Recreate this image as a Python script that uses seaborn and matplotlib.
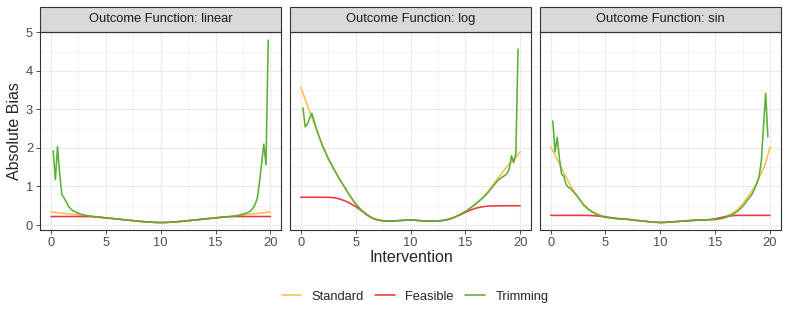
import numpy as np
import pandas as pd
import matplotlib
matplotlib.use("Agg")
import matplotlib.pyplot as plt
from matplotlib.patches import Rectangle
from matplotlib.lines import Line2D
import seaborn as sns

NAN = np.nan

# --- DATA ---
INTERVENTION = [0, 0.2, 0.4, 0.6, 0.8, 1.0, 1.2, 1.4, 1.6, 1.8, 2.0,
                2.5, 3, 3.5, 4, 4.5, 5, 5.5, 6, 6.5, 7, 7.5,
                8, 8.5, 9, 9.5, 10, 10.5, 11, 11.5, 12, 12.5, 13,
                13.5, 14, 14.5, 15, 15.5, 16, 16.5, 17, 17.5, 18,
                18.2, 18.4, 18.6, 18.8, 19, 19.2, 19.4, 19.6, 19.8, 20]

LINEAR_STANDARD = [0.34, 0.334, 0.327, 0.321, 0.314, 0.308, 0.302, 0.295, 0.289, 0.283, 0.277,
                   0.262, 0.247, 0.232, 0.217, 0.202, 0.187, 0.172, 0.157, 0.142, 0.127, 0.112,
                   0.098, 0.086, 0.075, 0.067, 0.064, 0.067, 0.075, 0.086, 0.098, 0.112, 0.127,
                   0.142, 0.157, 0.172, 0.187, 0.202, 0.217, 0.232, 0.247, 0.262, 0.277,
                   0.283, 0.289, 0.295, 0.302, 0.308, 0.314, 0.321, 0.327, 0.334, 0.34]
LINEAR_FEASIBLE = [0.22, 0.22, 0.22, 0.22, 0.22, 0.22, 0.22, 0.22, 0.22, 0.22, 0.22,
                   0.22, 0.22, 0.218, 0.212, 0.2, 0.187, 0.172, 0.157, 0.142, 0.127, 0.112,
                   0.098, 0.086, 0.075, 0.067, 0.064, 0.067, 0.075, 0.086, 0.098, 0.112, 0.127,
                   0.142, 0.157, 0.172, 0.187, 0.2, 0.212, 0.218, 0.22, 0.22, 0.22,
                   0.22, 0.22, 0.22, 0.22, 0.22, 0.22, 0.22, 0.22, 0.22, 0.22]
LINEAR_TRIMMING = [NAN, 1.93, 1.18, 2.04, 1.3, 0.78, 0.7, 0.6, 0.48, 0.42, 0.37,
                   0.3, 0.26, 0.235, 0.215, 0.198, 0.184, 0.17, 0.156, 0.142, 0.127, 0.112,
                   0.098, 0.086, 0.075, 0.067, 0.064, 0.067, 0.075, 0.086, 0.098, 0.112, 0.127,
                   0.142, 0.156, 0.17, 0.184, 0.198, 0.21, 0.222, 0.245, 0.28, 0.33,
                   0.37, 0.43, 0.53, 0.69, 1.1, 1.6, 2.1, 1.56, 4.8, NAN]

LOG_STANDARD = [3.58, 3.42, 3.26, 3.11, 2.95, 2.8, 2.65, 2.5, 2.35, 2.2, 2.05,
                1.72, 1.45, 1.2, 0.97, 0.74, 0.54, 0.39, 0.27, 0.18, 0.13, 0.11,
                0.1, 0.105, 0.115, 0.125, 0.128, 0.122, 0.11, 0.1, 0.098, 0.105, 0.12,
                0.15, 0.2, 0.27, 0.35, 0.45, 0.57, 0.69, 0.85, 1.04, 1.23,
                1.3, 1.38, 1.45, 1.52, 1.58, 1.64, 1.7, 1.76, 1.83, 1.9]
LOG_FEASIBLE = [0.72, 0.72, 0.72, 0.72, 0.72, 0.72, 0.72, 0.72, 0.72, 0.72, 0.72,
                0.72, 0.71, 0.68, 0.63, 0.56, 0.48, 0.38, 0.27, 0.18, 0.13, 0.11,
                0.1, 0.105, 0.115, 0.125, 0.128, 0.122, 0.11, 0.1, 0.098, 0.105, 0.12,
                0.15, 0.2, 0.26, 0.33, 0.39, 0.44, 0.47, 0.49, 0.495, 0.5,
                0.5, 0.5, 0.5, 0.5, 0.5, 0.5, 0.5, 0.5, 0.5, 0.5]
LOG_TRIMMING = [NAN, 3.04, 2.55, 2.62, 2.77, 2.9, 2.71, 2.52, 2.35, 2.19, 2.04,
                1.73, 1.46, 1.21, 0.98, 0.75, 0.55, 0.39, 0.27, 0.18, 0.13, 0.11,
                0.1, 0.105, 0.115, 0.125, 0.128, 0.122, 0.11, 0.1, 0.098, 0.105, 0.12,
                0.15, 0.2, 0.27, 0.35, 0.45, 0.56, 0.68, 0.82, 1.0, 1.17,
                1.21, 1.25, 1.29, 1.34, 1.45, 1.8, 1.62, 1.85, 4.57, NAN]

SIN_STANDARD = [2.03, 1.93, 1.82, 1.71, 1.59, 1.47, 1.36, 1.25, 1.14, 1.03, 0.93,
                0.72, 0.54, 0.41, 0.32, 0.26, 0.22, 0.19, 0.17, 0.16, 0.15, 0.13,
                0.115, 0.1, 0.085, 0.072, 0.065, 0.07, 0.08, 0.09, 0.1, 0.11, 0.12,
                0.125, 0.13, 0.14, 0.16, 0.19, 0.23, 0.29, 0.39, 0.55, 0.74,
                0.82, 0.91, 1.0, 1.11, 1.23, 1.35, 1.47, 1.62, 1.82, 2.03]
SIN_FEASIBLE = [0.25, 0.25, 0.25, 0.25, 0.25, 0.25, 0.25, 0.25, 0.25, 0.25, 0.25,
                0.25, 0.25, 0.248, 0.24, 0.228, 0.21, 0.19, 0.17, 0.16, 0.15, 0.13,
                0.115, 0.1, 0.085, 0.072, 0.065, 0.07, 0.08, 0.09, 0.1, 0.11, 0.12,
                0.125, 0.13, 0.14, 0.16, 0.19, 0.22, 0.24, 0.25, 0.25, 0.25,
                0.25, 0.25, 0.25, 0.25, 0.25, 0.25, 0.25, 0.25, 0.25, 0.25]
SIN_TRIMMING = [NAN, 2.7, 1.9, 2.28, 1.73, 1.32, 1.27, 1.06, 0.98, 0.95, 0.89,
                0.72, 0.52, 0.39, 0.3, 0.24, 0.2, 0.18, 0.165, 0.155, 0.145, 0.13,
                0.115, 0.1, 0.085, 0.072, 0.065, 0.07, 0.08, 0.09, 0.1, 0.11, 0.12,
                0.125, 0.13, 0.135, 0.14, 0.16, 0.2, 0.26, 0.35, 0.48, 0.67,
                0.74, 0.82, 0.95, 1.08, 1.26, 1.65, 2.55, 3.42, 2.29, NAN]

FUNCTIONS = ["linear", "log", "sin"]
METHODS = ["Standard", "Feasible", "Trimming"]
COLORS = {"Standard": "#FDBF4F", "Feasible": "#F0363C", "Trimming": "#5BAF37"}

series = {
    "linear": [LINEAR_STANDARD, LINEAR_FEASIBLE, LINEAR_TRIMMING],
    "log": [LOG_STANDARD, LOG_FEASIBLE, LOG_TRIMMING],
    "sin": [SIN_STANDARD, SIN_FEASIBLE, SIN_TRIMMING],
}

frames = []
for fn in FUNCTIONS:
    for method, vals in zip(METHODS, series[fn]):
        frames.append(pd.DataFrame({"x": INTERVENTION, "bias": vals,
                                    "method": method, "fn": fn}))
df = pd.concat(frames, ignore_index=True).dropna()

# --- PLOT ---
sns.set_theme(style="white")
plt.rcParams["font.family"] = ["Liberation Sans", "DejaVu Sans"]

fig, axes = plt.subplots(1, 3, figsize=(7.89, 3.15), dpi=100, sharey=True)
fig.subplots_adjust(left=0.0507, right=0.9899, bottom=0.2698, top=0.8994, wspace=0.035)

for i, (ax, fn) in enumerate(zip(axes, FUNCTIONS)):
    sns.lineplot(data=df[df.fn == fn], x="x", y="bias", hue="method",
                 hue_order=METHODS, palette=COLORS, estimator=None,
                 errorbar=None, legend=False, linewidth=1.15, ax=ax)
    ax.set_xlim(-1, 21)
    ax.set_ylim(-0.13, 5.02)
    ax.set_xticks([0, 5, 10, 15, 20])
    ax.set_xticks([2.5, 7.5, 12.5, 17.5], minor=True)
    ax.set_yticks([0, 1, 2, 3, 4, 5])
    ax.set_yticks([0.5, 1.5, 2.5, 3.5, 4.5], minor=True)
    ax.set_axisbelow(True)
    ax.grid(which="major", color="#EBEBEB", linewidth=0.8)
    ax.grid(which="minor", color="#EBEBEB", linewidth=0.4)
    ax.set_xlabel("")
    ax.set_ylabel("")
    for s in ax.spines.values():
        s.set_color("#333333")
        s.set_linewidth(0.8)
    ax.tick_params(which="major", length=2.75, width=0.6, color="#333333",
                   labelsize=9.3, labelcolor="#4D4D4D", pad=2.2,
                   bottom=True, left=(i == 0))
    ax.tick_params(which="minor", length=0)

    # facet strip
    ax.add_patch(Rectangle((0, 1), 1, 0.126, transform=ax.transAxes,
                           facecolor="#D9D9D9", edgecolor="#333333",
                           linewidth=0.8, clip_on=False))
    ax.text(0.5, 1.063, f"Outcome Function: {fn}", transform=ax.transAxes,
            ha="center", va="center", fontsize=9.3, color="#1A1A1A")

fig.text(0.5216, 0.181, "Intervention", ha="center", va="center", fontsize=11.5)
fig.text(0.019, 0.5845, "Absolute Bias", ha="center", va="center",
         rotation=90, fontsize=11.5)

handles = [Line2D([0], [0], color=COLORS[m], linewidth=1.15) for m in METHODS]
fig.legend(handles, METHODS, loc="center", bbox_to_anchor=(0.526, 0.058),
           ncol=3, frameon=False, handlelength=1.52, handletextpad=0.8,
           columnspacing=0.88, fontsize=9.3)

fig.savefig("out.png", dpi=100)
